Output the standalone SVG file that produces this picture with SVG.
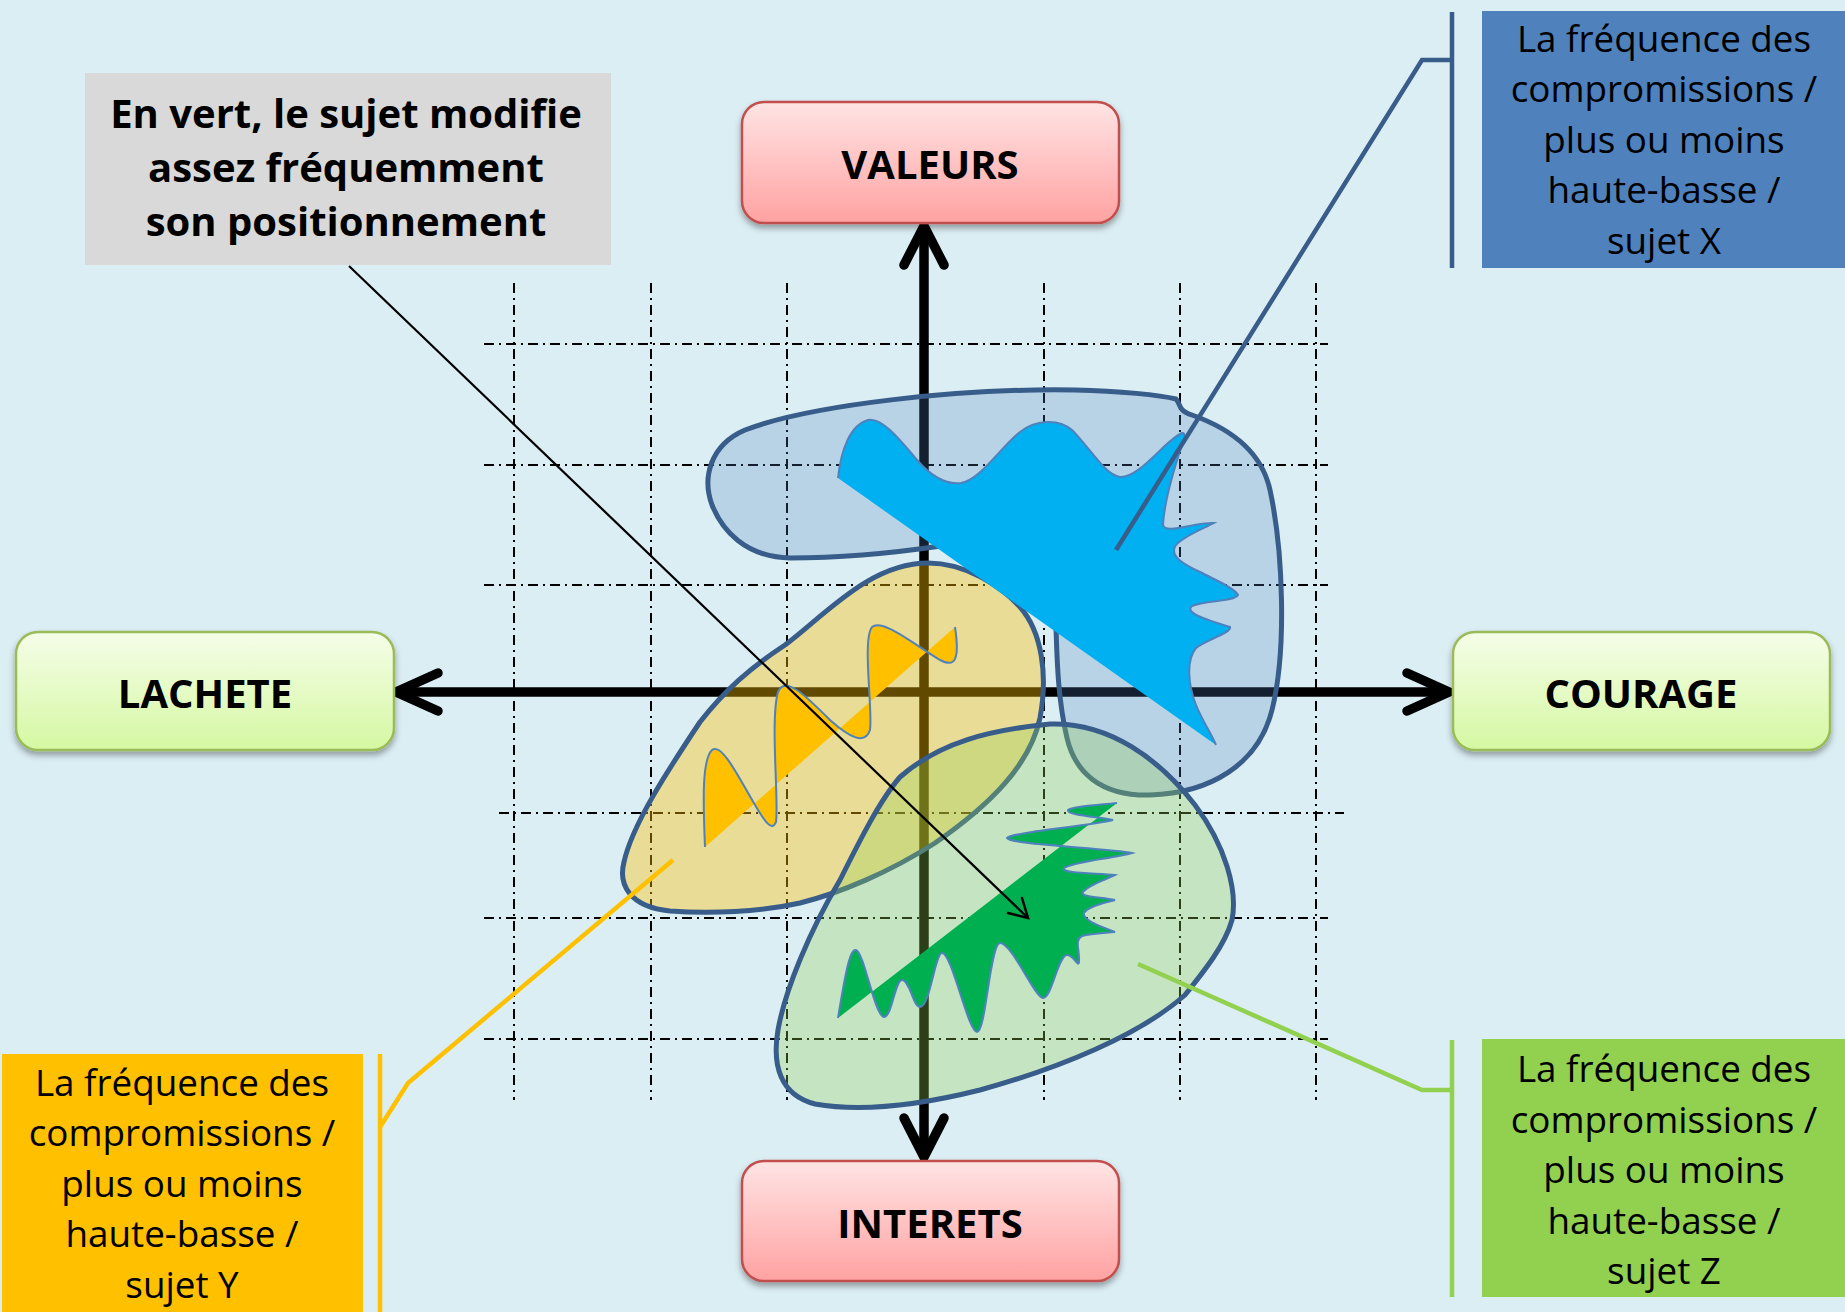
<svg xmlns="http://www.w3.org/2000/svg" width="1845" height="1312" viewBox="0 0 1845 1312">
<defs>
<linearGradient id="gRed" x1="0" y1="0" x2="0" y2="1">
<stop offset="0" stop-color="#FFE4E4"/><stop offset="1" stop-color="#FFA2A2"/>
</linearGradient>
<linearGradient id="gGreen" x1="0" y1="0" x2="0" y2="1">
<stop offset="0" stop-color="#F5FDE8"/><stop offset="1" stop-color="#D5F8A2"/>
</linearGradient>
<filter id="sh" x="-10%" y="-10%" width="120%" height="130%">
<feDropShadow dx="0" dy="4" stdDeviation="3" flood-color="#000" flood-opacity="0.35"/>
</filter>
<style>
.grid{stroke:#000;stroke-width:2;stroke-dasharray:10 5 2 5;fill:none}
.axis{stroke:#000;stroke-width:9.5;fill:none}
.head{stroke:#000;stroke-width:9.5;fill:none;stroke-linecap:round;stroke-linejoin:miter}
.blob{stroke:#385D8A;stroke-width:5;stroke-linejoin:round}
.wave{fill:none;stroke:#4F81BD;stroke-width:2}
.lbl{font-family:"Open Sans","Liberation Sans",sans-serif;font-weight:bold;font-size:40px;text-anchor:middle;fill:#000}
.note{font-family:"Open Sans","Liberation Sans",sans-serif;font-size:36.8px;text-anchor:middle;fill:#000}
.gnote{font-family:"Open Sans","Liberation Sans",sans-serif;font-weight:bold;font-size:40px;text-anchor:middle;fill:#000}
.red{fill:url(#gRed);stroke:#C0504D;stroke-width:2.5}
.grn{fill:url(#gGreen);stroke:#9BBB59;stroke-width:2.5}
</style>
</defs>
<rect width="1845" height="1312" fill="#DBEEF4"/>

<g id="grid">
<line class="grid" x1="514" y1="283" x2="514" y2="1100"/>
<line class="grid" x1="651" y1="283" x2="651" y2="1100"/>
<line class="grid" x1="787" y1="283" x2="787" y2="1100"/>
<line class="grid" x1="1044" y1="283" x2="1044" y2="1100"/>
<line class="grid" x1="1180" y1="283" x2="1180" y2="1100"/>
<line class="grid" x1="1316" y1="283" x2="1316" y2="1100"/>
<line class="grid" x1="484" y1="344" x2="1328" y2="344"/>
<line class="grid" x1="484" y1="465" x2="1328" y2="465"/>
<line class="grid" x1="484" y1="585" x2="1328" y2="585"/>
<line class="grid" x1="499" y1="813" x2="1344" y2="813"/>
<line class="grid" x1="484" y1="918" x2="1328" y2="918"/>
<line class="grid" x1="484" y1="1039" x2="1328" y2="1039"/>
</g>

<g id="axes">
<line class="axis" x1="400" y1="692" x2="1446" y2="692"/>
<line class="axis" x1="924" y1="231" x2="924" y2="1152"/>
<polyline class="head" points="438,673 396,692 438,711"/>
<polyline class="head" points="1407,673 1449,692 1407,711"/>
<polyline class="head" points="904,265 924,226 944,265"/>
<polyline class="head" points="904,1118 924,1157 944,1118"/>
</g>

<g id="regions">
<path id="blob-x" class="blob" fill="#4F81BD" fill-opacity="0.25" d="M745,430 C810,405 960,388 1075,390 C1120,391 1160,395 1176,399 C1181,404 1177,410 1192,415 C1240,432 1263,458 1270,490 C1283,550 1287,650 1272,710 C1258,765 1210,793 1150,795 C1100,796 1075,772 1067,738 C1058,700 1057,660 1056,628 C1054,595 1000,560 941,546 C900,552 840,558 790,558 C745,557 722,530 712,505 C702,478 710,445 745,430 Z"/>
<path id="blob-y" class="blob" fill="#FFC000" fill-opacity="0.38" d="M928,563 C965,563 1000,585 1020,607 C1042,632 1048,675 1040,718 C1030,765 990,805 935,843 C890,872 840,893 800,903 C760,912 710,914 670,911 C630,907 618,885 624,862 C632,825 668,770 700,722 C725,690 750,668 785,645 C825,615 870,563 928,563 Z"/>
<path id="blob-z" class="blob" fill="#92D050" fill-opacity="0.3" d="M900,777 C940,742 990,730 1050,724 C1110,722 1160,760 1195,805 C1225,845 1238,890 1232,920 C1225,945 1205,970 1185,995 C1140,1035 1060,1068 980,1090 C920,1105 860,1112 815,1104 C780,1095 772,1065 778,1030 C785,990 810,930 840,880 C860,840 880,800 900,777 Z"/>
</g>

<g id="waves">
<g id="wave-x">
<path fill="#00B0F0" d="M838,478 C841,450 850,425 868,420 C882,417 900,440 917,460 C930,475 945,485 961,483 C980,480 1000,448 1020,432 C1035,420 1058,418 1072,430 C1090,448 1105,475 1120,477 C1140,478 1165,440 1182,433 C1186,432 1184,440 1182,445 C1172,475 1164,505 1163,525 C1165,535 1195,522 1214,523 C1205,528 1185,535 1176,545 C1168,556 1185,565 1200,572 C1215,580 1235,588 1238,595 C1234,602 1205,600 1192,606 C1185,612 1200,618 1230,627 C1232,633 1205,640 1196,648 C1186,660 1188,685 1196,705 C1203,722 1212,735 1216,745 Z"/>
<path class="wave" d="M838,478 C841,450 850,425 868,420 C882,417 900,440 917,460 C930,475 945,485 961,483 C980,480 1000,448 1020,432 C1035,420 1058,418 1072,430 C1090,448 1105,475 1120,477 C1140,478 1165,440 1182,433 C1186,432 1184,440 1182,445 C1172,475 1164,505 1163,525 C1165,535 1195,522 1214,523 C1205,528 1185,535 1176,545 C1168,556 1185,565 1200,572 C1215,580 1235,588 1238,595 C1234,602 1205,600 1192,606 C1185,612 1200,618 1230,627 C1232,633 1205,640 1196,648 C1186,660 1188,685 1196,705 C1203,722 1212,735 1216,745"/>
</g>
<g id="wave-y">
<path fill="#FFC000" d="M705,847 C703,800 702,760 712,750 C722,742 740,780 755,805 C765,822 772,832 776,822 C779,800 770,720 778,692 C785,675 805,695 830,720 C850,738 865,745 870,730 C873,710 862,640 872,627 C882,618 915,645 940,660 C955,668 960,660 955,627 Z"/>
<path class="wave" d="M705,847 C703,800 702,760 712,750 C722,742 740,780 755,805 C765,822 772,832 776,822 C779,800 770,720 778,692 C785,675 805,695 830,720 C850,738 865,745 870,730 C873,710 862,640 872,627 C882,618 915,645 940,660 C955,668 960,660 955,627"/>
</g>
<g id="wave-z">
<path fill="#00B050" d="M838,1018 C845,975 850,948 856,950 C864,952 875,1017 884,1017 C892,1017 895,980 902,980 C910,980 913,1007 920,1007 C930,1007 935,953 942,953 C952,953 968,1032 977,1032 C986,1032 990,943 1000,943 C1012,943 1035,998 1043,998 C1052,998 1058,955 1067,955 C1074,955 1078,968 1079,962 C1080,950 1074,940 1082,936 C1092,933 1105,933 1115,932 C1100,926 1082,920 1084,913 C1088,906 1105,903 1115,900 C1100,897 1080,897 1083,892 C1088,885 1105,880 1115,875 C1100,873 1060,874 1064,868 C1072,862 1115,858 1132,853 C1110,848 1010,845 1007,838 C1012,832 1090,826 1113,820 C1100,817 1066,815 1068,810 C1072,806 1100,805 1117,803 Z"/>
<path class="wave" d="M838,1018 C845,975 850,948 856,950 C864,952 875,1017 884,1017 C892,1017 895,980 902,980 C910,980 913,1007 920,1007 C930,1007 935,953 942,953 C952,953 968,1032 977,1032 C986,1032 990,943 1000,943 C1012,943 1035,998 1043,998 C1052,998 1058,955 1067,955 C1074,955 1078,968 1079,962 C1080,950 1074,940 1082,936 C1092,933 1105,933 1115,932 C1100,926 1082,920 1084,913 C1088,906 1105,903 1115,900 C1100,897 1080,897 1083,892 C1088,885 1105,880 1115,875 C1100,873 1060,874 1064,868 C1072,862 1115,858 1132,853 C1110,848 1010,845 1007,838 C1012,832 1090,826 1113,820 C1100,817 1066,815 1068,810 C1072,806 1100,805 1117,803"/>
</g>
</g>

<g id="connectors" fill="none" stroke-linejoin="miter">
<line x1="1452" y1="12" x2="1452" y2="268" stroke="#385D8A" stroke-width="4.5"/>
<polyline points="1452,60 1422,60 1116,550" stroke="#385D8A" stroke-width="4.5"/>
<line x1="380" y1="1054" x2="380" y2="1312" stroke="#FFC000" stroke-width="4.5"/>
<polyline points="380,1127 408,1083 673,860" stroke="#FFC000" stroke-width="4.5"/>
<line x1="1452" y1="1040" x2="1452" y2="1297" stroke="#92D050" stroke-width="4.5"/>
<polyline points="1452,1090 1422,1090 1138,964" stroke="#92D050" stroke-width="4.5"/>
<line x1="349" y1="266" x2="1027" y2="917" stroke="#000" stroke-width="2.2"/>
<polyline points="1008,913 1028,918 1022,898" stroke="#000" stroke-width="2.5" stroke-linecap="round"/>
</g>

<g id="valeurs">
<rect class="red" x="742" y="102" width="377" height="121" rx="22" filter="url(#sh)"/>
<text class="lbl" x="930" y="179">VALEURS</text>
</g>
<g id="interets">
<rect class="red" x="742" y="1161" width="377" height="120" rx="22" filter="url(#sh)"/>
<text class="lbl" x="930" y="1238">INTERETS</text>
</g>
<g id="lachete">
<rect class="grn" x="16" y="632" width="378" height="118" rx="22" filter="url(#sh)"/>
<text class="lbl" x="205" y="708">LACHETE</text>
</g>
<g id="courage">
<rect class="grn" x="1453" y="632" width="377" height="118" rx="22" filter="url(#sh)"/>
<text class="lbl" x="1641" y="708">COURAGE</text>
</g>

<g id="note-vert">
<rect x="85" y="73" width="526" height="192" fill="#D9D9D9"/>
<text class="gnote" x="346" y="128">En vert, le sujet modifie</text>
<text class="gnote" x="346" y="182">assez fréquemment</text>
<text class="gnote" x="346" y="236">son positionnement</text>
</g>

<g id="sujet-x">
<rect x="1482" y="11" width="363" height="257" fill="#4F81BD"/>
<text class="note" x="1664" y="52">La fréquence des</text>
<text class="note" x="1664" y="102">compromissions /</text>
<text class="note" x="1664" y="153">plus ou moins</text>
<text class="note" x="1664" y="203">haute-basse /</text>
<text class="note" x="1664" y="254">sujet X</text>
</g>
<g id="sujet-y">
<rect x="2" y="1054" width="361" height="258" fill="#FFC000"/>
<text class="note" x="182" y="1096">La fréquence des</text>
<text class="note" x="182" y="1146">compromissions /</text>
<text class="note" x="182" y="1197">plus ou moins</text>
<text class="note" x="182" y="1247">haute-basse /</text>
<text class="note" x="182" y="1298">sujet Y</text>
</g>
<g id="sujet-z">
<rect x="1482" y="1039" width="363" height="258" fill="#92D050"/>
<text class="note" x="1664" y="1082">La fréquence des</text>
<text class="note" x="1664" y="1133">compromissions /</text>
<text class="note" x="1664" y="1183">plus ou moins</text>
<text class="note" x="1664" y="1234">haute-basse /</text>
<text class="note" x="1664" y="1284">sujet Z</text>
</g>
</svg>
